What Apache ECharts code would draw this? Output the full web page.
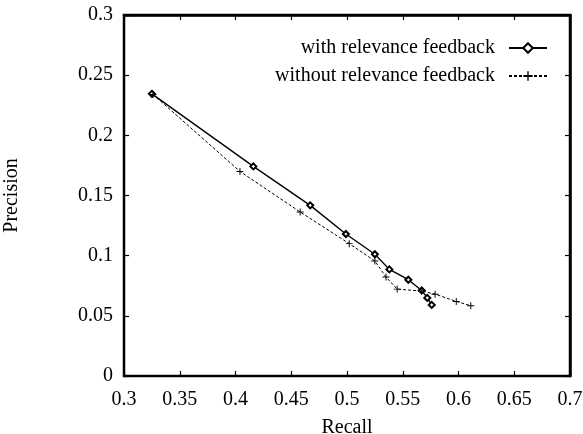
<!DOCTYPE html>
<html>
	<head>
		<meta charset="UTF-8">
		<title>Recall / Precision</title>
		<script type="text/javascript" src="https://cdn.jsdelivr.net/npm/echarts@6/dist/echarts.min.js"></script>
		<style>
			html, body { margin: 0; padding: 0; background: #fff; overflow: hidden; }
		</style>
	</head>
	<body>
		<div id="chart" style="width:583px;height:434px;"></div>
	</body>
</html>
<script type="text/javascript">
// 数据
var withRecall = [0.325, 0.416, 0.467, 0.499, 0.525, 0.538, 0.555, 0.567, 0.572, 0.576];
var withPrecision = [0.2345, 0.1742, 0.1418, 0.1180, 0.1012, 0.0886, 0.0800, 0.0711, 0.0649, 0.0591];
var withoutRecall = [0.326, 0.404, 0.458, 0.502, 0.525, 0.535, 0.545, 0.567, 0.579, 0.598, 0.611];
var withoutPrecision = [0.2340, 0.1700, 0.1363, 0.1100, 0.0956, 0.0822, 0.0722, 0.0706, 0.0680, 0.0620, 0.0584];
var xTicks = [0.3, 0.35, 0.4, 0.45, 0.5, 0.55, 0.6, 0.65, 0.7];
var yTicks = [0, 0.05, 0.1, 0.15, 0.2, 0.25, 0.3];

function pairs(xs, ys) {
	var out = [];
	for (var i = 0; i < xs.length; i++) {
		out.push([xs[i], ys[i]]);
	}
	return out;
}

var font = 'Liberation Serif';
var plusPath = 'path://M4.3,0H5.7V10H4.3Z M0,4.3H10V5.7H0Z';

function fmt(v) { return String(+v.toFixed(2)); }

// 坐标轴 (四边都画, gnuplot 风格)
function makeX(pos, labels, w) {
	return {
		type: 'value',
		gridIndex: 0,
		position: pos,
		min: xTicks[0],
		max: xTicks[xTicks.length - 1],
		interval: 0.05,
		splitLine: { show: false },
		axisLine: { show: true, onZero: false, lineStyle: { color: '#000', width: w } },
		axisTick: { show: true, inside: true, length: 5, lineStyle: { color: '#000', width: 1.2 } },
		axisLabel: { show: labels, fontFamily: font, fontSize: 20, color: '#000', margin: 14, formatter: fmt }
	};
}
function makeY(pos, labels, w) {
	return {
		type: 'value',
		gridIndex: 0,
		position: pos,
		min: yTicks[0],
		max: yTicks[yTicks.length - 1],
		interval: 0.05,
		splitLine: { show: false },
		axisLine: { show: true, onZero: false, lineStyle: { color: '#000', width: w } },
		axisTick: { show: true, inside: true, length: 5, lineStyle: { color: '#000', width: 1.2 } },
		axisLabel: { show: labels, fontFamily: font, fontSize: 20, color: '#000', margin: 11, formatter: fmt }
	};
}

var xBottom = makeX('bottom', true, 1.5);
xBottom.name = 'Recall';
xBottom.nameLocation = 'middle';
xBottom.nameGap = 42;
xBottom.nameTextStyle = { fontFamily: font, fontSize: 20, color: '#000' };

var yLeft = makeY('left', true, 1.5);
yLeft.name = 'Precision';
yLeft.nameLocation = 'middle';
yLeft.nameGap = 102;
yLeft.nameTextStyle = { fontFamily: font, fontSize: 20, color: '#000' };

var myChart = echarts.init(document.getElementById('chart'));
var option = {
	animation: false,
	backgroundColor: '#fff',
	grid: {
		left: 124, right: 13, top: 15, bottom: 58,
		containLabel: false,
		outerBoundsMode: 'none',
		show: true,
		borderColor: '#000',
		borderWidth: 2.5,
		backgroundColor: 'transparent'
	},
	legend: {
		right: 30,
		top: 33,
		orient: 'vertical',
		align: 'right',
		itemWidth: 38,
		itemHeight: 12,
		itemGap: 8,
		textStyle: { fontFamily: font, fontSize: 20, color: '#000', padding: [0, 9, 0, 0] },
		data: ['with relevance feedback', 'without relevance feedback']
	},
	xAxis: [xBottom, makeX('top', false, 2.5)],
	yAxis: [yLeft, makeY('right', false, 2.5)],
	series: [
		{
			name: 'with relevance feedback',
			type: 'line',
			data: pairs(withRecall, withPrecision),
			symbol: 'emptyDiamond',
			symbolSize: 6,
			lineStyle: { color: '#000', width: 1.4 },
			itemStyle: { color: '#000', borderColor: '#000', borderWidth: 1.5 }
		},
		{
			name: 'without relevance feedback',
			type: 'line',
			data: pairs(withoutRecall, withoutPrecision),
			symbol: plusPath,
			symbolSize: 7,
			lineStyle: { color: '#000', width: 1, type: [3, 2] },
			itemStyle: { color: '#000' }
		},
		{
			// 空系列, 让上/右坐标轴生效
			name: 'mirror',
			type: 'line',
			xAxisIndex: 1,
			yAxisIndex: 1,
			data: [],
			silent: true
		}
	]
};
myChart.setOption(option);
</script>
